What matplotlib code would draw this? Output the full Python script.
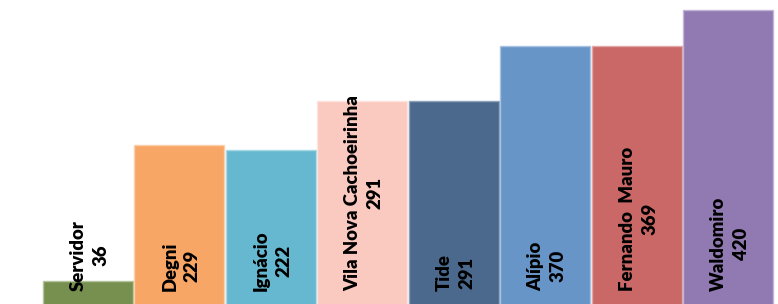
import matplotlib
matplotlib.use("Agg")
import matplotlib.pyplot as plt

categories = ["Servidor", "Degni", "Ignácio", "Vila Nova Cachoeirinha", "Tide",
              "Alípio", "Fernando  Mauro", "Waldomiro"]
values = [36, 229, 222, 291, 291, 370, 369, 420]
colors = ["#77904f", "#f7a665", "#65b8cf", "#fac9bf", "#4a698c",
          "#6895c8", "#c96866", "#917ab1"]
edges = ["#b4c49a", "#fbd0ac", "#a8d8e6", "#fde4de", "#8ea3bc",
         "#a8c2e2", "#e2a8a6", "#c3b5d8"]

fig = plt.figure(figsize=(7.78, 3.04), dpi=100)
ax = fig.add_axes([0, 0, 1, 1])
x = list(range(len(categories)))
ax.bar(x, values, width=0.985, color=colors, edgecolor=edges, linewidth=1.0)

ax.set_xlim(-0.959, 7.544)
ax.set_ylim(3.4, 434.8)
ax.axis("off")

label_y = 21.9
for xi, name, v in zip(x, categories, values):
    ax.text(xi + 0.02, label_y, f"{name}\n{v}", rotation=90, ha="center", va="bottom",
            multialignment="center", fontsize=13.3, fontweight="heavy",
            family=["Lato", "DejaVu Sans"], color="black", linespacing=1.4)

fig.savefig("out.png", dpi=100)
